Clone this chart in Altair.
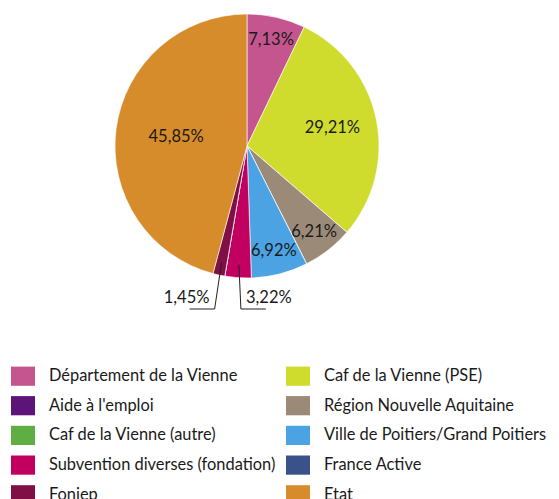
import altair as alt
import pandas as pd

categories = [
    "Département de la Vienne",
    "Caf de la Vienne (PSE)",
    "Aide à l'emploi",
    "Région Nouvelle Aquitaine",
    "Caf de la Vienne (autre)",
    "Ville de Poitiers/Grand Poitiers",
    "Subvention diverses (fondation)",
    "France Active",
    "Foniep",
    "Etat",
]
values = [7.13, 29.21, 0, 6.21, 0, 6.92, 3.22, 0, 1.45, 45.85]
colors = ["#C4558E", "#CFDC2E", "#5C1478", "#9C8A78", "#5EAE44",
          "#4BA3E3", "#C20060", "#3A5289", "#7F0F45", "#D68C2B"]

FONT = "Lato"
W, H = 535, 481
CX, CY = 236, 133
R = 132

df = pd.DataFrame({"cat": categories, "value": values, "idx": list(range(len(categories)))})
base = alt.Chart(df)

pie = base.mark_arc(outerRadius=R, stroke="white", strokeWidth=0.6).encode(
    x=alt.value(CX),
    y=alt.value(CY),
    theta=alt.Theta("value:Q", stack=True),
    order=alt.Order("idx:Q"),
    color=alt.Color(
        "cat:N",
        scale=alt.Scale(domain=categories, range=colors),
        legend=alt.Legend(
            title=None, orient="none", legendX=0, legendY=351, columns=2,
            direction="horizontal",
            symbolType="M-1,-0.8H1V0.8H-1Z", symbolSize=576, symbolStrokeWidth=0,
            symbolOpacity=1, labelFont=FONT, labelFontSize=16.4, labelColor="#1a1a1a",
            labelOffset=14, rowPadding=7.7, columnPadding=10, labelLimit=400,
        ),
    ),
)

geo = base.transform_joinaggregate(total="sum(value)").transform_window(
    cum="sum(value)", sort=[alt.SortField("idx")], frame=[None, 0]
).transform_calculate(
    a="2 * PI * (datum.cum - datum.value / 2) / datum.total",
    lab="replace(format(datum.value, '.2f'), '.', ',') + '%'",
)

inside = geo.transform_filter("datum.value >= 4").transform_calculate(
    r="115 - 0.95 * datum.value"
).transform_calculate(
    tx=f"{CX} + datum.r * sin(datum.a)",
    ty=f"{CY} - datum.r * cos(datum.a)",
)
inlab = inside.mark_text(font=FONT, fontSize=16.5, color="#1a1a1a").encode(
    x=alt.X("tx:Q", scale=None), y=alt.Y("ty:Q", scale=None), text="lab:N",
)

out = geo.transform_filter("datum.value > 0 && datum.value < 4").transform_window(
    k="row_number()", sort=[alt.SortField("idx")]
).transform_calculate(
    dir="datum.k % 2 == 1 ? 1 : -1",
    x0=f"{CX} + 119 * sin(datum.a)",
    y0=f"{CY} - 119 * cos(datum.a)",
).transform_calculate(
    x1="datum.x0 + (datum.dir > 0 ? 2 : -7)",
    y1=f"{CY + 163}",
).transform_calculate(
    x2="datum.x1 + 25 * datum.dir",
    tx="datum.x1 + 28 * datum.dir",
    ty="datum.y1 - 11",
)

lead1 = out.mark_rule(color="#222222", strokeWidth=1).encode(
    x=alt.X("x0:Q", scale=None), y=alt.Y("y0:Q", scale=None),
    x2="x1:Q", y2="y1:Q",
)
lead2 = out.mark_rule(color="#222222", strokeWidth=1).encode(
    x=alt.X("x1:Q", scale=None), y=alt.Y("y1:Q", scale=None),
    x2="x2:Q",
)
outlab = out.mark_text(font=FONT, fontSize=16.5, color="#1a1a1a").encode(
    x=alt.X("tx:Q", scale=None), y=alt.Y("ty:Q", scale=None), text="lab:N",
)

chart = alt.layer(pie, inlab, lead1, lead2, outlab).properties(
    width=W, height=H,
    padding={"left": 3, "top": 5, "right": 5, "bottom": 5},
    autosize=alt.AutoSizeParams(type="none"),
).configure_view(stroke=None)

chart.save("out.html", embed_options={"renderer": "svg", "actions": False})
